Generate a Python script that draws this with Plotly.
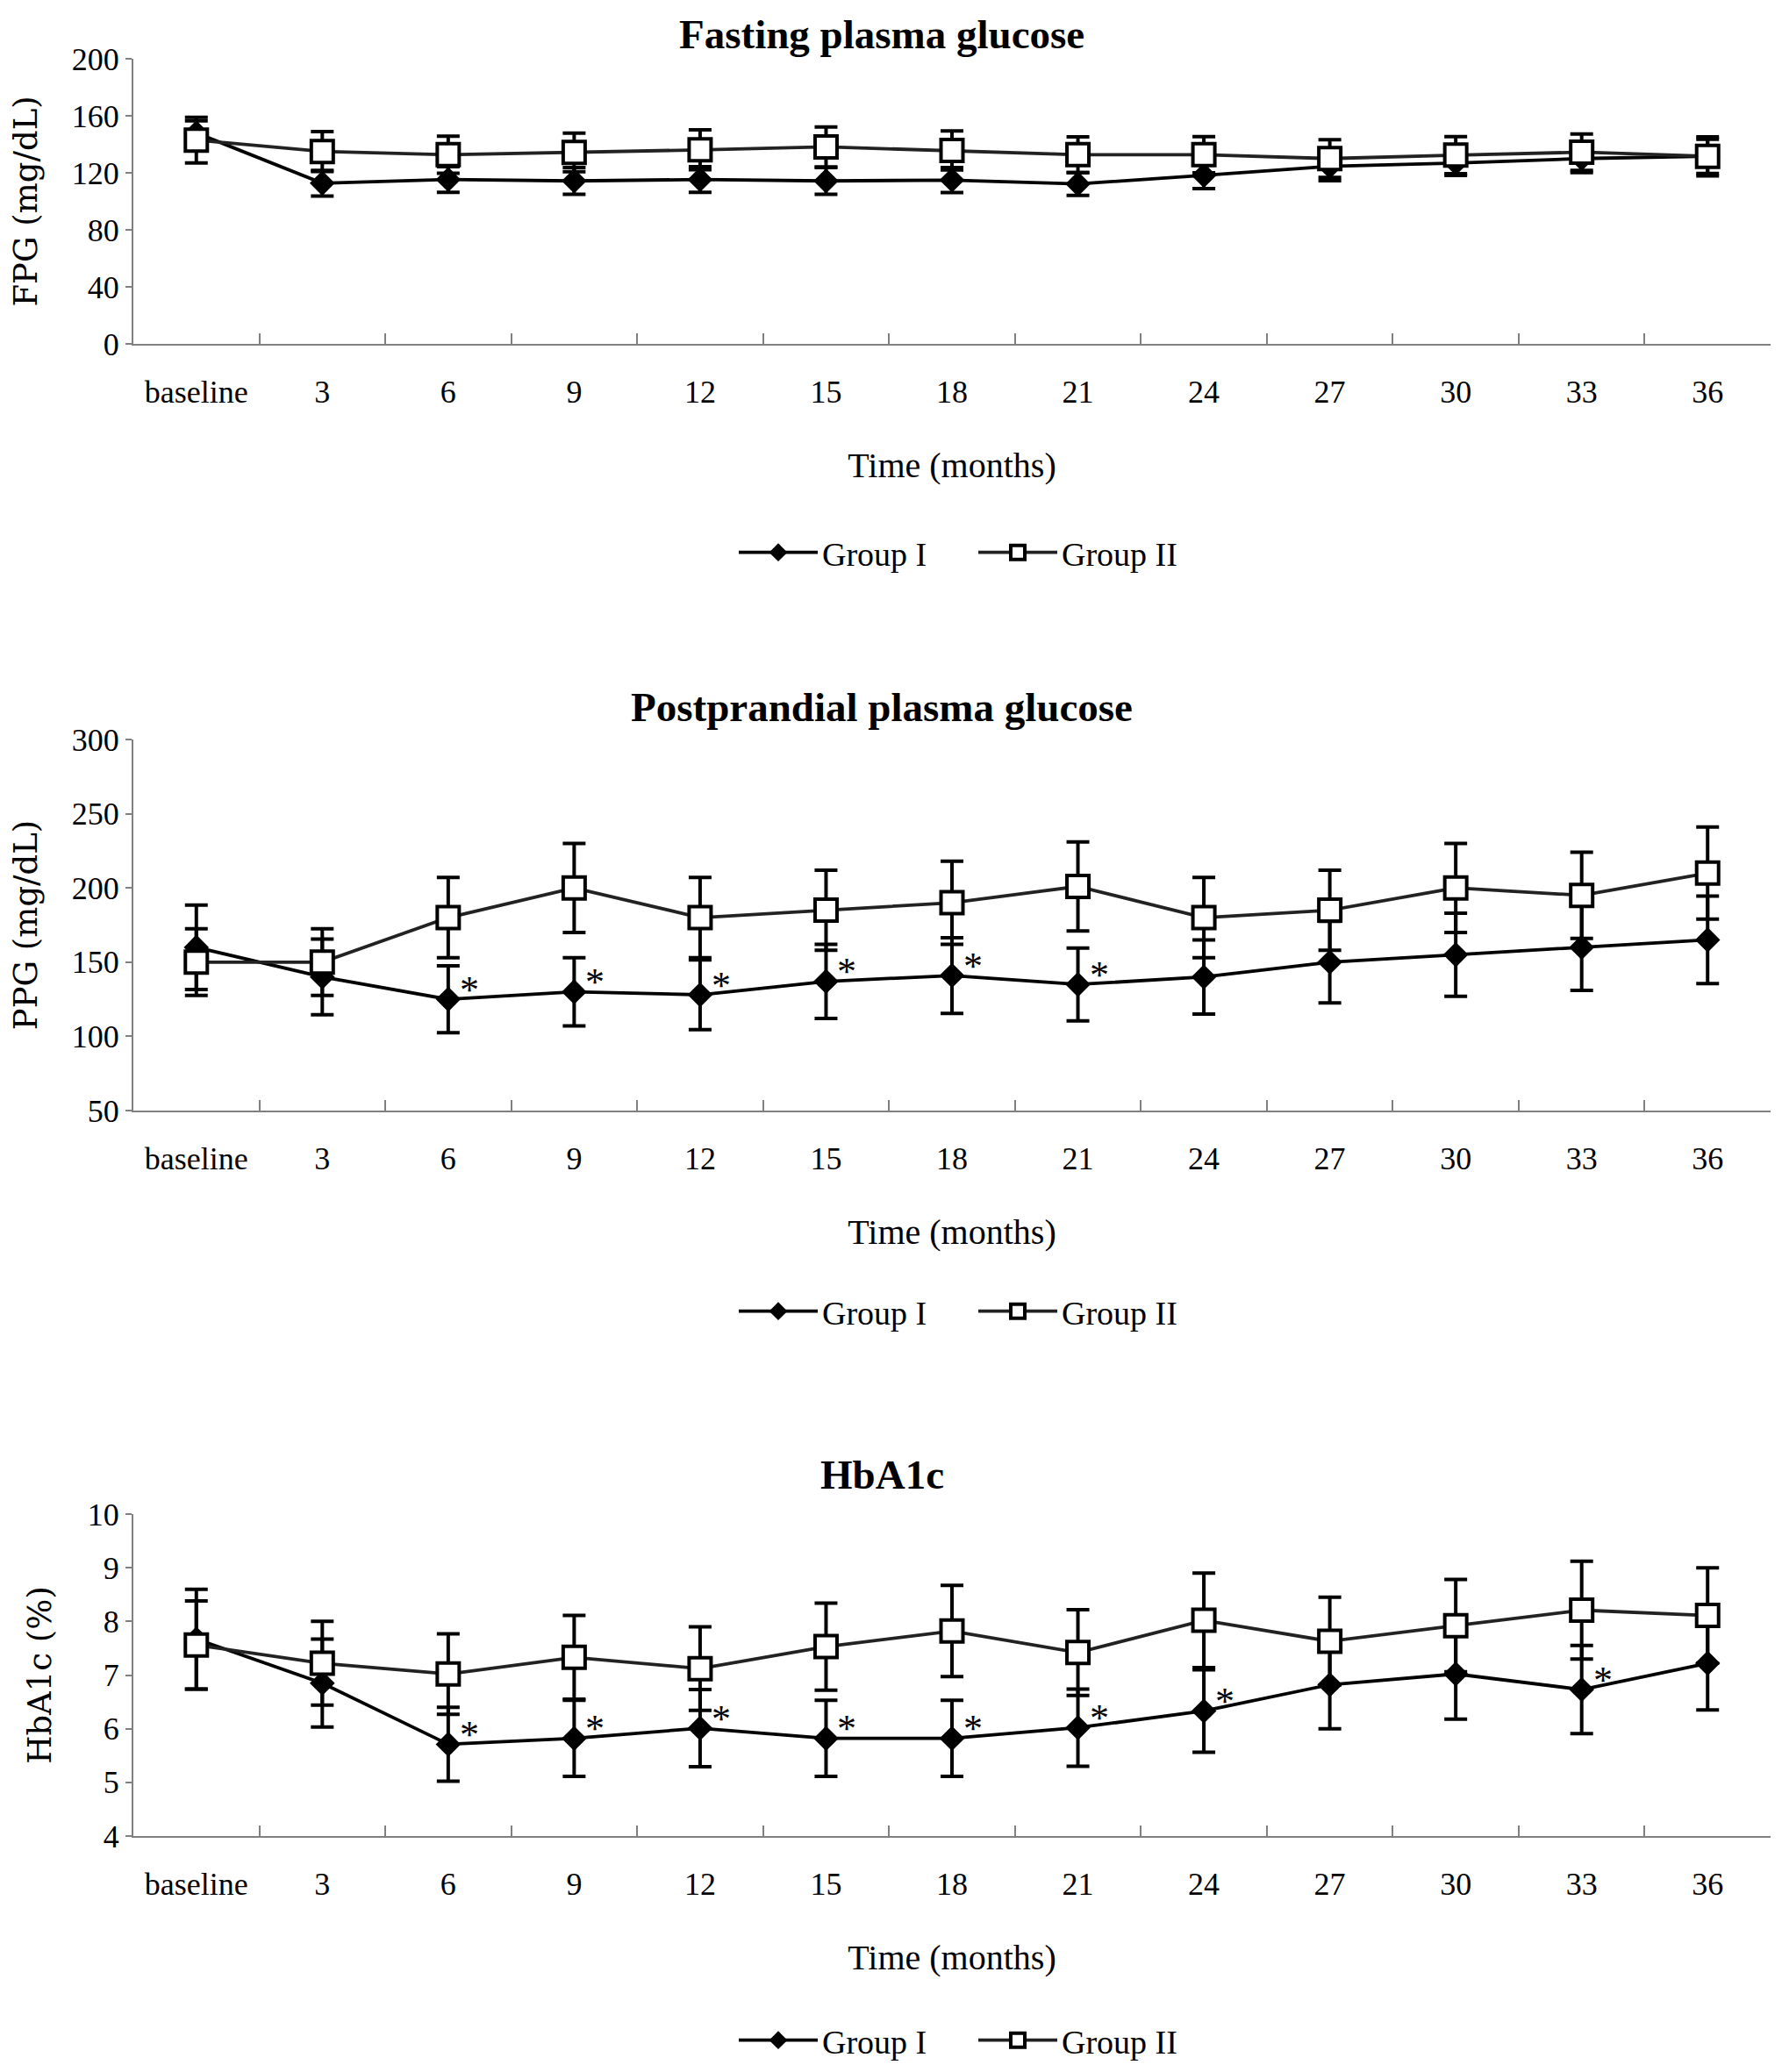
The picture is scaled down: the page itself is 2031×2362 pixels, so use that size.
import plotly.graph_objects as go

#data
months = ["baseline", "3", "6", "9", "12", "15", "18", "21", "24", "27", "30", "33", "36"]

fpg_g1 = [148, 112.7, 115.3, 114.3, 115.3, 114.3, 114.9, 112.2, 118.2, 124.5, 126.9, 130, 131.6]
fpg_g1_sd = [8.5, 9, 9, 9.4, 9, 9.4, 8.8, 8, 9.2, 10, 8.8, 9.8, 12]
fpg_g2 = [143, 135, 132.7, 134.3, 136.1, 138.2, 135.7, 132.7, 132.7, 130, 132.4, 134.5, 131.6]
fpg_g2_sd = [16, 14, 13, 13.5, 14, 14, 13.7, 12.6, 12.7, 13.3, 13, 12.8, 13.7]

ppg_g1 = [160, 140, 125, 130, 128, 137, 141, 135, 140, 150, 155, 160, 165]
ppg_g1_sd = [28.5, 25.5, 22.5, 23, 23.5, 25, 25.5, 24.5, 25, 27.5, 28, 29, 29.5]
ppg_g2 = [150, 150, 180, 200, 180, 185, 190, 201, 180, 185, 200, 195, 210]
ppg_g2_sd = [22.5, 22.5, 27, 30, 27, 27, 28, 30, 27, 27, 30, 29, 31]

hba_g1 = [7.67, 6.85, 5.71, 5.82, 6.01, 5.82, 5.82, 6.02, 6.33, 6.82, 7.02, 6.73, 7.22]
hba_g1_sd = [0.93, 0.82, 0.69, 0.71, 0.72, 0.71, 0.71, 0.72, 0.77, 0.82, 0.84, 0.82, 0.87]
hba_g2 = [7.56, 7.22, 7.02, 7.33, 7.12, 7.53, 7.82, 7.42, 8.02, 7.63, 7.92, 8.21, 8.11]
hba_g2_sd = [0.82, 0.78, 0.75, 0.78, 0.78, 0.81, 0.85, 0.8, 0.88, 0.82, 0.86, 0.91, 0.89]

# months where group I differs significantly (asterisks)
ppg_sig = ["6", "9", "12", "15", "18", "21"]
hba_sig = ["6", "9", "12", "15", "18", "21", "24", "33"]

panels = [
    ("Fasting plasma glucose", "FPG (mg/dL)", fpg_g1, fpg_g1_sd, fpg_g2, fpg_g2_sd, [], [0, 200], 40),
    ("Postprandial plasma glucose", "PPG (mg/dL)", ppg_g1, ppg_g1_sd, ppg_g2, ppg_g2_sd, ppg_sig, [50, 300], 50),
    ("HbA1c", "HbA1c (%)", hba_g1, hba_g1_sd, hba_g2, hba_g2_sd, hba_sig, [4, 10], 1),
]

#layout params (pixel positions -> paper fractions, page has an 8px body margin)
W, H = 2031, 2362
def py(px):
    return 1 - (px - 7) / H
def px_(px):
    return (px - 8) / W

y_domains = [[py(391), py(66)], [py(1265), py(842)], [py(2092), py(1725)]]
title_y = [py(38), py(805), py(1680)]
legend_y = [py(629), py(1494), py(2325)]
x_domain = [px_(152), px_(2018)]

serif = "Liberation Serif, Times New Roman, serif"

fig = go.Figure()
layout = dict(
    width=W, height=H,
    margin=dict(l=0, r=0, t=0, b=0, autoexpand=False),
    paper_bgcolor="white", plot_bgcolor="white",
    font=dict(family=serif, size=36, color="black"),
    annotations=[],
)

for i, (title, ytitle, g1, g1_sd, g2, g2_sd, sig, yrange, dtick) in enumerate(panels):
    n = "" if i == 0 else str(i + 1)
    leg = "legend" + n
    fig.add_trace(go.Scatter(
        x=months, y=g1, name="Group I", mode="lines+markers",
        xaxis="x" + n, yaxis="y" + n, legend=leg,
        line=dict(color="black", width=3.8),
        marker=dict(symbol="diamond", size=22, color="black"),
        error_y=dict(type="data", array=g1_sd, color="black", thickness=4, width=13),
    ))
    fig.add_trace(go.Scatter(
        x=months, y=g2, name="Group II", mode="lines+markers",
        xaxis="x" + n, yaxis="y" + n, legend=leg,
        line=dict(color="#222222", width=3.8),
        marker=dict(symbol="square", size=25, color="white", line=dict(color="black", width=4)),
        error_y=dict(type="data", array=g2_sd, color="black", thickness=4, width=13),
    ))

    layout["xaxis" + n] = dict(
        domain=x_domain, anchor="y" + n, type="category",
        categoryorder="array", categoryarray=months, range=[-0.5, 12.5],
        showline=True, linecolor="#808080", linewidth=2,
        ticks="inside", ticklen=12, tickcolor="#808080", tickwidth=1.5,
        tickson="boundaries", ticklabelstandoff=22,
        showgrid=False, zeroline=False,
        tickfont=dict(size=36, family=serif),
        title=dict(text="Time (months)", font=dict(size=40, family=serif), standoff=50),
    )
    layout["yaxis" + n] = dict(
        domain=y_domains[i], anchor="x" + n, range=yrange, dtick=dtick,
        showline=True, linecolor="#808080", linewidth=2,
        ticks="outside", ticklen=7, tickcolor="#808080", tickwidth=1.5,
        showgrid=False, zeroline=False,
        tickfont=dict(size=36, family=serif),
        title=dict(text=ytitle, font=dict(size=37, family="DejaVu Serif, serif"), standoff=30),
    )
    layout[leg] = dict(
        orientation="h", x=px_(837), y=legend_y[i], xanchor="left", yanchor="middle",
        font=dict(size=38, family=serif), itemwidth=90,
        entrywidth=168, entrywidthmode="pixels", bgcolor="rgba(0,0,0,0)",
    )
    layout["annotations"].append(dict(
        text="<b>" + title + "</b>", xref="paper", yref="paper",
        x=px_(1005), y=title_y[i], xanchor="center", yanchor="middle",
        showarrow=False, font=dict(size=47, family=serif),
    ))
    # asterisks next to group I points (category index on x)
    for m in sig:
        k = months.index(m)
        layout["annotations"].append(dict(
            text="*", x=k, y=g1[k], xref="x" + n, yref="y" + n,
            xshift=24, yshift=11, showarrow=False, font=dict(size=44, family=serif),
        ))

fig.update_layout(**layout)
fig.write_html("out.html")
